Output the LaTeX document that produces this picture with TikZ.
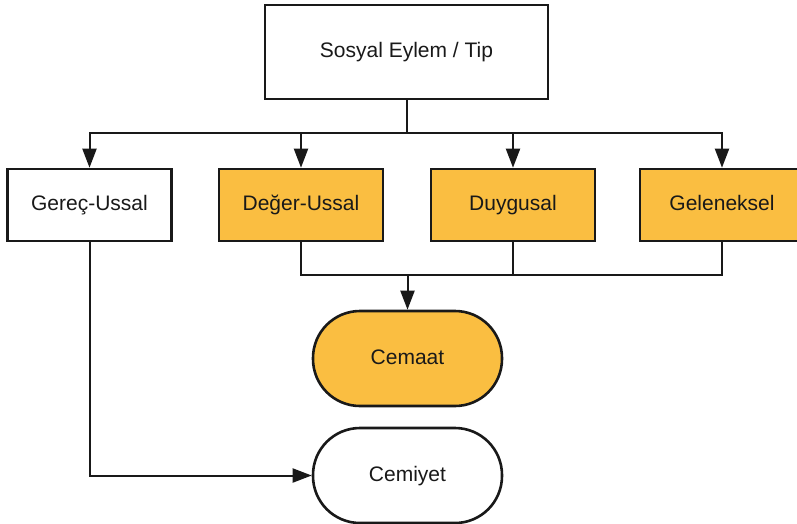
\documentclass[tikz,border=0pt]{standalone}
\usepackage{fontspec}
\setmainfont{Liberation Sans}
\usetikzlibrary{arrows.meta}
\definecolor{tipyellow}{RGB}{250,190,65}
\definecolor{tipline}{RGB}{25,25,25}
\begin{document}
\begin{tikzpicture}[x=1pt,y=-1pt,font=\fontsize{21}{25}\selectfont,
	box/.style={draw=tipline,line width=2.6pt,fill=white,text=tipline,minimum width=164pt,minimum height=72pt,inner sep=0pt,text height=15pt,text depth=4pt},
	yellowbox/.style={box,fill=tipyellow},
	pill/.style={box,minimum width=189pt,minimum height=95pt,rounded corners=47pt},
	arr/.style={line width=2pt,draw=tipline,-{Triangle[length=19pt,width=14pt]}},
	conn/.style={line width=2pt,draw=tipline}]
	\useasboundingbox (0,0) rectangle (797,523);
	
	%boxes
	\node[box,minimum width=283pt,minimum height=94pt] (tip) at (406.5,52) {Sosyal Eylem / Tip};
	\node[box] (gerec) at (89.5,205) {Gereç-Ussal};
	\node[yellowbox] (deger) at (301,205) {Değer-Ussal};
	\node[yellowbox] (duygu) at (513,205) {Duygusal};
	\node[yellowbox] (gelenek) at (722,205) {Geleneksel};
	
	%outcomes
	\node[pill,fill=tipyellow] (cemaat) at (407.5,358.5) {Cemaat};
	\node[pill] (cemiyet) at (407.5,475.5) {Cemiyet};
	
	%split
	\coordinate (split) at (406.5,133); %bus under the top box
	\draw[conn] (tip.south) -- (split);
	\draw[arr] (split) -| (gerec.north);
	\draw[arr] (split) -| (deger.north);
	\draw[arr] (split) -| (duygu.north);
	\draw[arr] (split) -| (gelenek.north);
	
	%join
	\coordinate (join) at (407.5,275); %bus above Cemaat
	\draw[conn] (deger.south) |- (join);
	\draw[conn] (duygu.south) |- (join);
	\draw[conn] (gelenek.south) |- (join);
	\draw[arr] (join) -- (cemaat.north);
	
	\draw[arr] (gerec.south) |- (cemiyet.west); %Gerec-Ussal to Cemiyet
\end{tikzpicture}
\end{document}
